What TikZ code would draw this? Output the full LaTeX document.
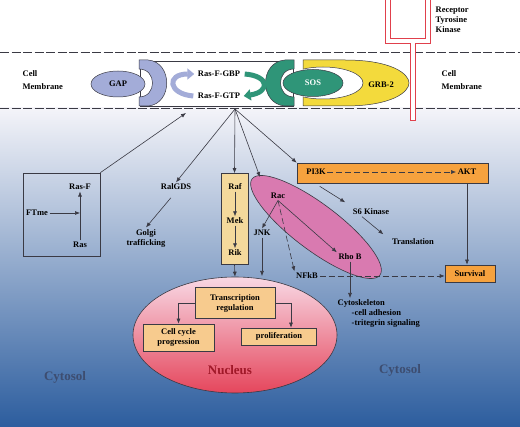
\documentclass[tikz,border=0pt]{standalone}
\usepackage{fontspec}
\setmainfont{Liberation Serif}
\usetikzlibrary{shapes,arrows.meta,positioning,calc}

\definecolor{gapblue}{HTML}{A3ACD8}
\definecolor{sosgreen}{HTML}{2F9578}
\definecolor{grbyellow}{HTML}{F3DA3C}
\definecolor{boxyellow}{HTML}{F4D99C}
\definecolor{boxorange}{HTML}{F6A23E}
\definecolor{transorange}{HTML}{F7CB8E}
\definecolor{racpink}{HTML}{D97AB0}
\definecolor{nuctop}{HTML}{F8D8E4}
\definecolor{nucbot}{HTML}{E5465C}
\definecolor{nuctext}{HTML}{A01828}
\definecolor{cytotop}{HTML}{F4F4F9}
\definecolor{cytomid}{HTML}{98ACD6}
\definecolor{cytobot}{HTML}{2C5D9E}
\definecolor{cytotext}{HTML}{3D4D70}
\definecolor{rtkred}{HTML}{E0404C}
\definecolor{lineg}{HTML}{3A3A44}

\tikzset{
  every node/.style={font=\fontsize{8.5}{10}\selectfont\bfseries, inner sep=1.5pt, align=center},
  arr/.style={draw=lineg, line width=0.6pt, -{Latex[length=5pt,width=4pt]}},
  darr/.style={arr, dash pattern=on 6pt off 3pt},
  memline/.style={draw=lineg, line width=0.9pt, dash pattern=on 9pt off 2.5pt},
  boxy/.style={draw=lineg, line width=0.6pt, fill=boxyellow},
  boxo/.style={draw=lineg, line width=0.6pt, fill=boxorange},
  boxt/.style={draw=lineg, line width=0.6pt, fill=transorange},
  bigtxt/.style={font=\fontsize{13}{15}\selectfont\bfseries},
  thickarr/.style={line width=5pt, -{Triangle[length=7pt,width=11pt]}},
}

\begin{document}
\begin{tikzpicture}[x=1pt,y=-1pt]
\useasboundingbox (0,0) rectangle (520,427);
\fill[white] (0,0) rectangle (520,108);
\shade[top color=cytotop, middle color=cytomid, bottom color=cytobot] (0,108) rectangle (520,427);

\draw[memline] (0,52) -- (520,52);
\draw[memline] (0,108) -- (520,108);

% receptor
\fill[white] (385,0) -- (385,43) -- (410,43) -- (410,120) -- (415,120) -- (415,43) -- (430,43) -- (430,0) -- (425,0) -- (425,38) -- (390,38) -- (390,0) -- cycle;
\draw[rtkred, line width=0.6pt] (390,0) -- (390,38) -- (425,38) -- (425,0);
\draw[rtkred, line width=0.6pt] (385,0) -- (385,43) -- (410,43) -- (410,120) -- (415,120) -- (415,43) -- (430,43) -- (430,0);
\node[align=left, anchor=north west] (rtk) at (434,5) {Receptor\\Tyrosine\\Kinase};

\node[align=left, anchor=west] (cml) at (21,80) {Cell\\[3pt]Membrane};
\node[align=left, anchor=west] (cmr) at (440,80) {Cell\\[3pt]Membrane};

% membrane complex
\node[draw=lineg, line width=0.6pt, fill=white, minimum width=153, minimum height=45] (rasbox) at (216.5,83.5) {};
\filldraw[fill=grbyellow, draw=lineg, line width=0.5pt] (303,60) -- (345,60) .. controls (392,60) and (409,74) .. (409,83) .. controls (409,92) and (392,106) .. (345,106) -- (303,106) -- cycle;
\begin{scope}
\clip (303,60) rectangle (410,106);
\filldraw[fill=white, draw=lineg, line width=0.5pt] (323,83) ellipse (40 and 16);
\end{scope}
\filldraw[fill=sosgreen, draw=lineg, line width=0.5pt] (294,60) -- (285,60) .. controls (259,62) and (259,104) .. (285,106) -- (294,106) -- (294,97) .. controls (276,97) and (276,69) .. (294,69) -- cycle;
\node[ellipse, fill=sosgreen, draw=lineg, line width=0.5pt, minimum width=60, minimum height=27, text=white] (sos) at (313,83) {SOS};
\node (grb) at (381,85) {GRB-2};
\filldraw[fill=gapblue, draw=lineg, line width=0.5pt] (139,60) -- (148,60) .. controls (173,62) and (173,104) .. (148,106) -- (139,106) -- (139,97) .. controls (157,97) and (157,69) .. (139,69) -- cycle;
\node[ellipse, fill=gapblue, draw=lineg, line width=0.5pt, minimum width=54, minimum height=26] (gap) at (118,84) {GAP};
\node (gbp) at (219,74) {Ras-F-GBP};
\node (gtp) at (219,96) {Ras-F-GTP};
\draw[thickarr, gapblue] ([xshift=-3pt]gtp.west) .. controls (168,94) and (166,74) .. ([xshift=-2pt]gbp.west);
\draw[thickarr, sosgreen] ([xshift=3pt]gbp.east) .. controls (270,76) and (270,92) .. ([xshift=2pt]gtp.east);

% cytosol
\coordinate (hub) at (235,109);
\coordinate (memin) at (186,113);
\coordinate (racin) at (260,177);

\node[draw=lineg, line width=0.6pt, minimum width=77, minimum height=83] (ftbox) at (61.5,214.5) {};
\node (rasf) at (80,187) {Ras-F};
\node (ftme) at (37,213) {FTme};
\node (ras) at (80,245) {Ras};

\node (ralgds) at (176,187) {RalGDS};
\node (golgi) at (146,238) {Golgi\\trafficking};

\node[boxy, minimum width=27, minimum height=91] (rafbox) at (234.5,219) {};
\node (raf) at (235,187) {Raf};
\node (mek) at (235,221) {Mek};
\node (rik) at (235,253) {Rik};

\node[boxo, minimum width=191, minimum height=20] (pibox) at (392.5,173) {};
\node (pi3k) at (316,172) {PI3K};
\node (akt) at (467,172) {AKT};
\node (s6) at (371,212) {S6 Kinase};
\node (transl) at (413,242) {Translation};
\node[boxo, minimum width=50, minimum height=17] (survival) at (470,273.5) {Survival};

\node[ellipse, draw=lineg, line width=0.6pt, fill=racpink, minimum width=160, minimum height=46, rotate=-37] (racell) at (316,227) {};
\node (rac) at (278,196) {Rac};
\node (jnk) at (262,233) {JNK};
\node (rhob) at (350,257) {Rho B};
\node (nfkb) at (307,276) {NFkB};
\node[align=left, anchor=north west] (cytosk) at (336,298) {Cytoskeleton\\\hspace*{14pt}-cell adhesion\\\hspace*{14pt}-tritegrin signaling};

\node[ellipse, draw=lineg, line width=0.6pt, top color=nuctop, bottom color=nucbot, minimum width=204, minimum height=116] (nucleus) at (235,335) {};
\node[bigtxt, text=nuctext] (nuclab) at (230,370) {Nucleus};
\node[boxt, minimum width=80, minimum height=31] (trans) at (235,303) {Transcription\\regulation};
\node[boxt, minimum width=71, minimum height=27] (cellcyc) at (178.5,337.5) {Cell cycle\\progression};
\node[boxt, minimum width=75, minimum height=17] (prolif) at (279,336.5) {proliferation};

\node[bigtxt, text=cytotext] (cytl) at (65,377) {Cytosol};
\node[bigtxt, text=cytotext] (cytr) at (400,370) {Cytosol};

\draw[arr] (hub) -- (ralgds.north);
\draw[arr] (hub) -- (rafbox.north);
\draw[arr] (hub) -- (racin);
\draw[arr] (hub) -- (pibox.north west);
\draw[arr] (ftbox.north east) -- (memin);
\draw[arr] (ras.north) -- (rasf.south);
\draw[arr] (ftme.east) -- (ftme.east -| rasf.south);
\draw[arr, shorten <=8pt] (ralgds.south) -- (golgi.north);
\draw[arr] (raf) -- (mek);
\draw[arr] (mek) -- (rik);
\draw[arr] (rafbox.south) -- (nucleus.north);
\draw[darr] (pi3k) -- (akt);
\draw[arr] (pibox.south -| akt) -- (akt |- survival.north);
\draw[arr] ([xshift=23pt,yshift=-3pt]pibox.south west) -- ([xshift=-6pt,yshift=5pt]s6.north west);
\draw[arr] ([xshift=-9pt]s6.south) -- ([xshift=-7pt,yshift=3pt]transl.north west);
\draw[arr] (rac.south) -- (jnk.north);
\draw[arr] (rac.south) -- (rhob.north west);
\draw[darr] (rac.south) -- (nfkb.north west);
\draw[arr] (jnk.south) -- (jnk.south |- nfkb);
\draw[arr] (rhob.south) -- (rhob.south |- cytosk.north);
\draw[darr] (nfkb.east) -- (nfkb.east -| survival.west);
\draw[arr] (trans.west) -| (cellcyc.north);
\draw[arr] (trans.east) -| ([xshift=12pt]prolif.north);
\end{tikzpicture}
\end{document}
